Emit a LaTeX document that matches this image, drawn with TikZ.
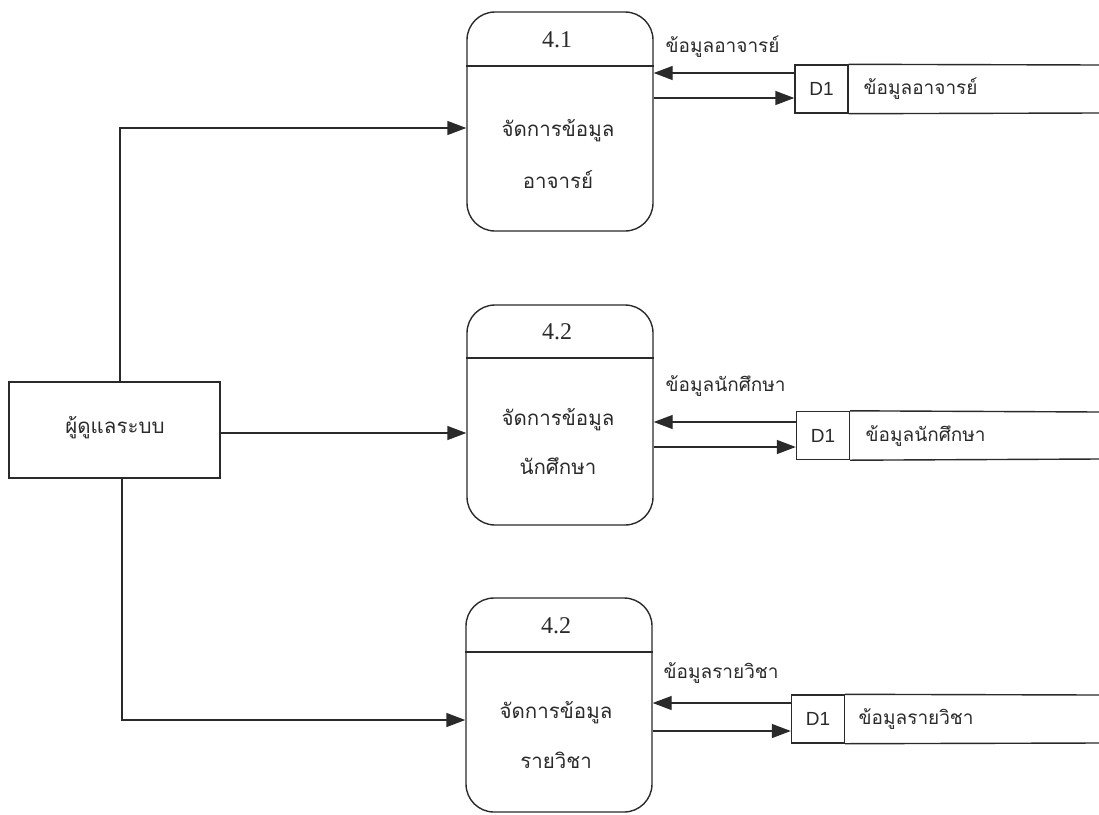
\documentclass[tikz,border=0pt]{standalone}
\usepackage{fontspec}
\usetikzlibrary{arrows.meta}
\setmainfont{Liberation Serif}
\newfontfamily\thai[Script=Thai]{Loma}
\newfontfamily\arial{Liberation Sans}
\definecolor{ink}{HTML}{2A2A2A}
\begin{document}
\begin{tikzpicture}[x=1pt,y=-1pt,
  line width=1.4pt, draw=ink, text=ink,
  arr/.style={-{Triangle[length=19pt,width=14pt]}, draw=ink},
  proc/.style={draw=ink, rounded corners=28pt, minimum width=186pt, inner sep=0pt},
  ent/.style={draw=ink, minimum width=211pt, minimum height=96pt, inner sep=0pt},
  cell/.style={draw=ink, minimum width=53pt, minimum height=48pt, inner sep=0pt, font=\arial\fontsize{19}{21}\selectfont},
  th/.style={font=\thai\fontsize{19}{22}\selectfont, inner sep=0pt},
  thbig/.style={font=\thai\fontsize{20.5}{24}\selectfont, inner sep=0pt},
  num/.style={font=\fontsize{24}{26}\selectfont, inner sep=0pt}
]
\useasboundingbox (0,0) rectangle (1099,814);

% external entity
\node[ent] (e) at (114.5,430) {};
\node[thbig] (et) at (115,428) {ผู้ดูแลระบบ};

% processes
\node[proc, minimum height=219pt] (p1) at (560,121.5) {};
\node[proc, minimum height=220pt] (p2) at (560,415) {};
\node[proc, minimum height=214pt] (p3) at (559,705) {};
\draw (p1.west |- 0,66) -- (p1.east |- 0,66);
\draw (p2.west |- 0,358) -- (p2.east |- 0,358);
\draw (p3.west |- 0,652) -- (p3.east |- 0,652);
\node[num] (n1) at (557,40) {4.1};
\node[num] (n2) at (557,332) {4.2};
\node[num] (n3) at (556,626) {4.2};
\node[thbig] (t1a) at (558,131) {จัดการข้อมูล};
\node[thbig] (t1b) at (558,180) {อาจารย์};
\node[thbig] (t2a) at (558,420) {จัดการข้อมูล};
\node[thbig] (t2b) at (558,466) {นักศึกษา};
\node[thbig] (t3a) at (556,713) {จัดการข้อมูล};
\node[thbig] (t3b) at (556,760) {รายวิชา};

% data stores
\node[cell] (d1) at (821.5,89) {D1};
\node[cell] (d2) at (823,435.5) {D1};
\node[cell] (d3) at (818,719) {D1};
\coordinate (d1e) at (1099,65);
\coordinate (d1f) at (1099,113);
\coordinate (d2e) at (1099,412);
\coordinate (d2f) at (1099,459);
\coordinate (d3e) at (1099,695);
\coordinate (d3f) at (1099,743);
\draw (d1.north east) -- (d1e);
\draw (d1.south east) -- (d1f);
\draw (d2.north east) -- (d2e);
\draw (d2.south east) -- (d2f);
\draw (d3.north east) -- (d3e);
\draw (d3.south east) -- (d3f);
\node[th, anchor=west] (s1) at (863,89) {ข้อมูลอาจารย์};
\node[th, anchor=west] (s2) at (865,436) {ข้อมูลนักศึกษา};
\node[th, anchor=west] (s3) at (858,719) {ข้อมูลรายวิชา};

% flows between entity and processes
\draw[arr] ([xshift=5.5pt]e.north) |- (p1.west |- 0,128);
\draw[arr] (e.east |- 0,433) -- (p2.west |- 0,433);
\draw[arr] ([xshift=7.5pt]e.south) |- (p3.west |- 0,720);

% flows between processes and stores
\draw[arr] (d1.west |- 0,73) -- (p1.east |- 0,73);
\draw[arr] (p1.east |- 0,98) -- (d1.west |- 0,98);
\draw[arr] (d2.west |- 0,422) -- (p2.east |- 0,422);
\draw[arr] (p2.east |- 0,447) -- (d2.west |- 0,447);
\draw[arr] (d3.west |- 0,703) -- (p3.east |- 0,703);
\draw[arr] (p3.east |- 0,731) -- (d3.west |- 0,731);
\node[th, anchor=west] (l1) at (665,47) {ข้อมูลอาจารย์};
\node[th, anchor=west] (l2) at (665,386) {ข้อมูลนักศึกษา};
\node[th, anchor=west] (l3) at (663,673) {ข้อมูลรายวิชา};
\end{tikzpicture}
\end{document}
